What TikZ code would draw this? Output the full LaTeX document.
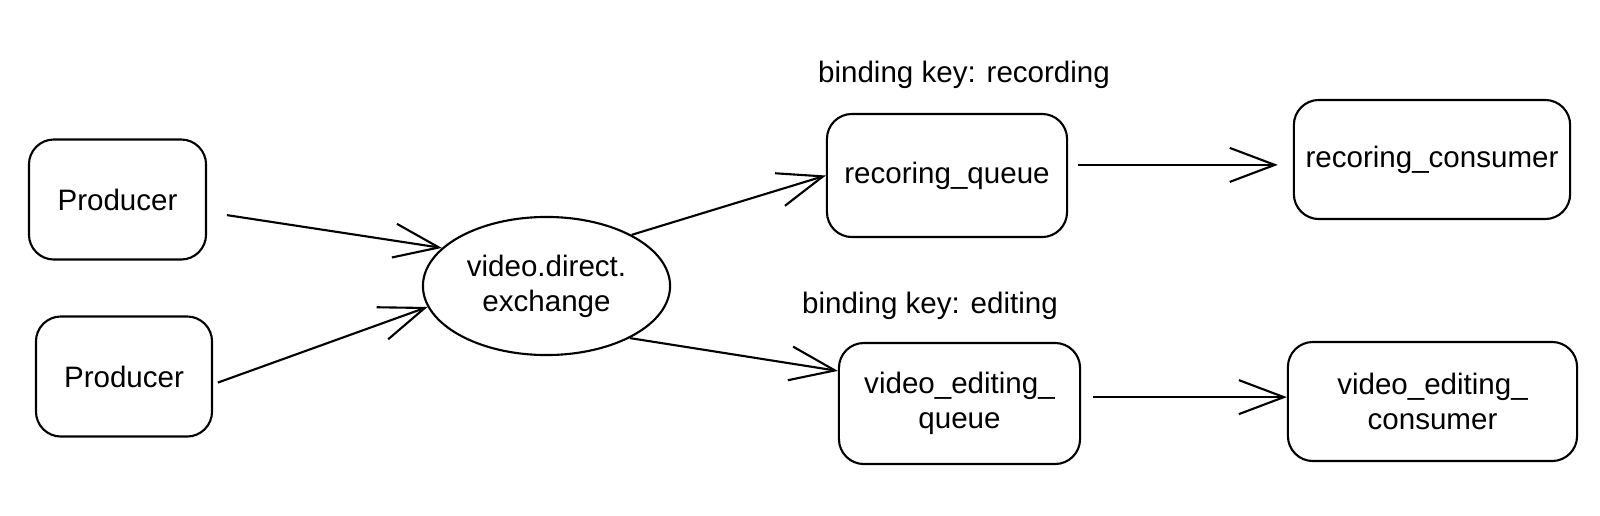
\documentclass[tikz,border=0pt]{standalone}
\usepackage{fontspec}
\setmainfont{Liberation Sans}
\usetikzlibrary{arrows.meta,shapes.geometric}

\begin{document}
\begin{tikzpicture}
  [x=0.01cm,y=-0.01cm,line width=0.6pt,
   every node/.style={font=\fontsize{8.4}{10}\selectfont,align=center},
   box/.style={draw,rectangle,rounded corners=0.25cm,minimum height=1.2cm},
   oval/.style={draw,ellipse,inner sep=0pt,minimum width=2.47cm,minimum height=1.38cm},
   arr/.style={-{Straight Barb[length=0.45cm,width=0.34cm]}}]
  \useasboundingbox (0,0) rectangle (1600,515);

  \node (prod1) [box,minimum width=1.77cm] at (117.5,199.5) {Producer};
  \node (prod2) [box,minimum width=1.76cm] at (124,376.5) {Producer};
  \node (exch) [oval] at (546.5,286) {video.direct.\\exchange};

  \node (recq) [box,minimum width=2.40cm,minimum height=1.23cm] at (947,175.5) {recoring\_queue};
  \node (editq) [box,minimum width=2.41cm,minimum height=1.21cm] at (959.5,403.5) {video\_editing\_\\queue};
  \node (recc) [box,minimum width=2.72cm,minimum height=1.19cm] at (1432,159.5) {recoring\_consumer};
  \node (editc) [box,minimum width=2.89cm,minimum height=1.19cm] at (1432.5,401.5) {video\_editing\_\\consumer};

  \node (recLabel) at (964,75) {binding key: recording};
  \node (editLabel) at (930,306) {binding key: editing};

\path[arr]
(prod1.-8) edge [shorten <=0.2cm] (exch.160.5)
(prod2.-5.5) edge [shorten <=0.05cm] (exch.-170.8)
(exch.31) edge (recq.west)
(exch.-32.4) edge (editq.165)
(recq.5) edge [shorten <=0.1cm,shorten >=0.15cm] (recq.5 -| recc.west)
(editq.3) edge [shorten <=0.12cm] (editq.3 -| editc.west);
\end{tikzpicture}
\end{document}
